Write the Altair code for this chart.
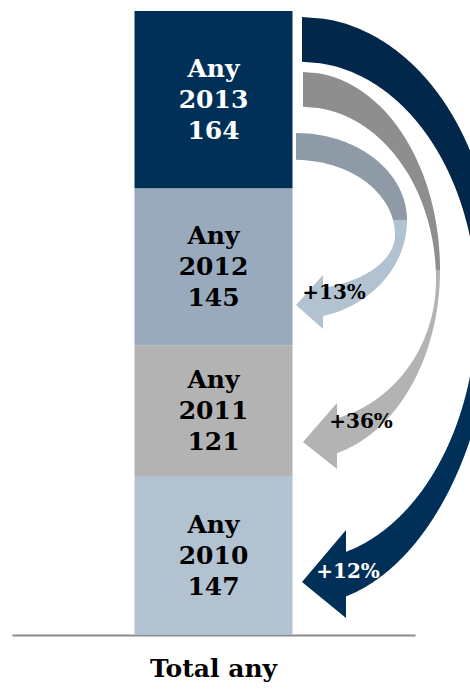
import altair as alt
import numpy as np
import pandas as pd

# ---------------- data ----------------
category = "Total any"
years = ["2010", "2011", "2012", "2013"]
counts = [147, 121, 145, 164]
word = "Any"
change_labels = ["+12%", "+36%", "+13%"]      # 2013 compared with 2010, 2011, 2012
change_targets = ["2010", "2011", "2012"]

# ---------------- style ----------------
bar_colors = ["#B3C2D1", "#B3B3B3", "#98AABC", "#003057"]
arrow_upper = ["#01284A", "#8E8E8E", "#8E9AA6"]
arrow_lower = ["#003057", "#B3B3B3", "#B3C2D1"]
arrow_text = ["white", "black", "black"]
SERIF = "DejaVu Serif"

PAD_L, PAD_T, PAD_R, PAD_B = 12, 11, 55, 54
W = 470 - PAD_L - PAD_R
H = 689 - PAD_T - PAD_B
BAR_W = 158
LINE_H = 31

# arrow geometry (page pixels): tail x, head length, outer/inner half-ellipses, head, label
arrow_geo = [
    dict(x0=302, hl=44, ao=193, cyo=280, buo=263, blo=325, ai=175, cyi=305, bui=243, bli=255,
         tip=582, bt=530, bb=618, lx=348, ly=572),
    dict(x0=303, hl=34, ao=137, cyo=270, buo=198, blo=189, ai=133, cyi=280, bui=173, bli=143,
         tip=442, bt=403, bb=469, lx=361, ly=422),
    dict(x0=296, hl=27, ao=111, cyo=220, buo=87, blo=99, ai=99, cyi=235, bui=75, bli=55,
         tip=305, bt=275, bb=329, lx=334, ly=293),
]

# ---------------- tables ----------------
total = sum(counts)
top = np.cumsum(counts)
bottom = top - np.array(counts)
bar_df = pd.DataFrame({
    "cat": category,
    "year": years,
    "count": counts,
    "y0": bottom,
    "y1": top,
    "mid": (bottom + top) / 2,
    "label": [f" {word}\n{y}\n{c}" for y, c in zip(years, counts)],
})

yscale = alt.Scale(domain=[0, total], nice=False, zero=True)
xband = alt.Scale(domain=[category])

bars = alt.Chart(bar_df).mark_bar(size=BAR_W).encode(
    x=alt.X("cat:N", scale=xband, axis=alt.Axis(
        title=None, ticks=False, labelAngle=0, domainColor="#8C8C8C", domainWidth=2,
        labelFont=SERIF, labelFontSize=25, labelFontWeight="bold", labelColor="black",
        labelPadding=21)),
    y=alt.Y("y0:Q", scale=yscale, axis=None),
    y2="y1:Q",
    color=alt.Color("year:N", scale=alt.Scale(domain=years, range=bar_colors), legend=None),
)

seg_text = alt.Chart(bar_df).mark_text(
    font=SERIF, fontWeight="bold", fontSize=25, lineBreak="\n", lineHeight=LINE_H,
    baseline="middle", align="center", dy=-LINE_H,
).encode(
    x=alt.X("cat:N", scale=xband, axis=None),
    y=alt.Y("mid:Q", scale=yscale, axis=None),
    text="label:N",
    color=alt.condition(alt.datum.year == years[-1], alt.value("white"), alt.value("black")),
)

xs = alt.Scale(domain=[0, W], nice=False, zero=False)
ys = alt.Scale(domain=[0, H], nice=False, zero=False, reverse=True)


def ex(y, cy, a, b, x0):
    u = (y - cy) / b
    return x0 + a * np.sqrt(np.clip(1 - u * u, 0, 1))


layers = [bars, seg_text]
arrow_layers = []
for i, g in enumerate(arrow_geo):
    x0, hl = g["x0"], g["hl"]
    # upper (back) part
    yu = np.linspace(g["cyo"] - g["buo"], g["cyo"], 160)
    xr_u = ex(yu, g["cyo"], g["ao"], g["buo"], x0)
    xl_u = ex(yu, g["cyi"], g["ai"], np.where(yu <= g["cyi"], g["bui"], g["bli"]), x0)
    xl_u = np.minimum(xl_u, xr_u)
    up = pd.DataFrame({"y": yu - PAD_T, "xl": xl_u - PAD_L, "xr": xr_u - PAD_L})
    # lower (front) part
    y_end = g["cyo"] + g["blo"] * np.sqrt(1 - (hl / g["ao"]) ** 2)
    yl = np.linspace(g["cyo"], y_end, 200)
    xr_l = ex(yl, g["cyo"], g["ao"], g["blo"], x0)
    xl_l = ex(yl, g["cyi"], g["ai"], np.where(yl <= g["cyi"], g["bui"], g["bli"]), x0)
    xl_l = np.minimum(np.maximum(xl_l, x0 + hl - 1), xr_l)
    lo = pd.DataFrame({"y": yl - PAD_T, "xl": xl_l - PAD_L, "xr": xr_l - PAD_L})
    # head
    hd = pd.DataFrame({
        "y": np.array([g["bt"], g["tip"], g["bb"]]) - PAD_T,
        "xl": np.array([x0 + hl, x0, x0 + hl]) - PAD_L,
        "xr": np.array([x0 + hl, x0 + hl, x0 + hl]) - PAD_L,
    })
    for df, col in ((up, arrow_upper[i]), (lo, arrow_lower[i]), (hd, arrow_lower[i])):
        arrow_layers.append(
            alt.Chart(df).mark_area(orient="horizontal", color=col, interpolate="linear").encode(
                y=alt.Y("y:Q", scale=ys, axis=None, sort=None),
                x=alt.X("xl:Q", scale=xs, axis=None),
                x2="xr:Q",
            )
        )
    lab = pd.DataFrame({"x": [g["lx"] - PAD_L], "y": [g["ly"] - PAD_T], "t": [change_labels[i]]})
    arrow_layers.append(
        alt.Chart(lab).mark_text(font=SERIF, fontWeight="bold", fontSize=20, color=arrow_text[i],
                                 baseline="middle", align="center").encode(
            x=alt.X("x:Q", scale=xs, axis=None),
            y=alt.Y("y:Q", scale=ys, axis=None),
            text="t:N",
        )
    )

chart = alt.layer(*layers, *arrow_layers).resolve_scale(
    x="independent", y="independent", color="independent"
).properties(
    width=W, height=H,
    padding={"left": PAD_L, "top": PAD_T, "right": PAD_R, "bottom": PAD_B},
    autosize=alt.AutoSizeParams(type="none"),
    background="white",
).configure_view(strokeWidth=0)

chart.save("out.html", embed_options={"renderer": "svg", "actions": False})
